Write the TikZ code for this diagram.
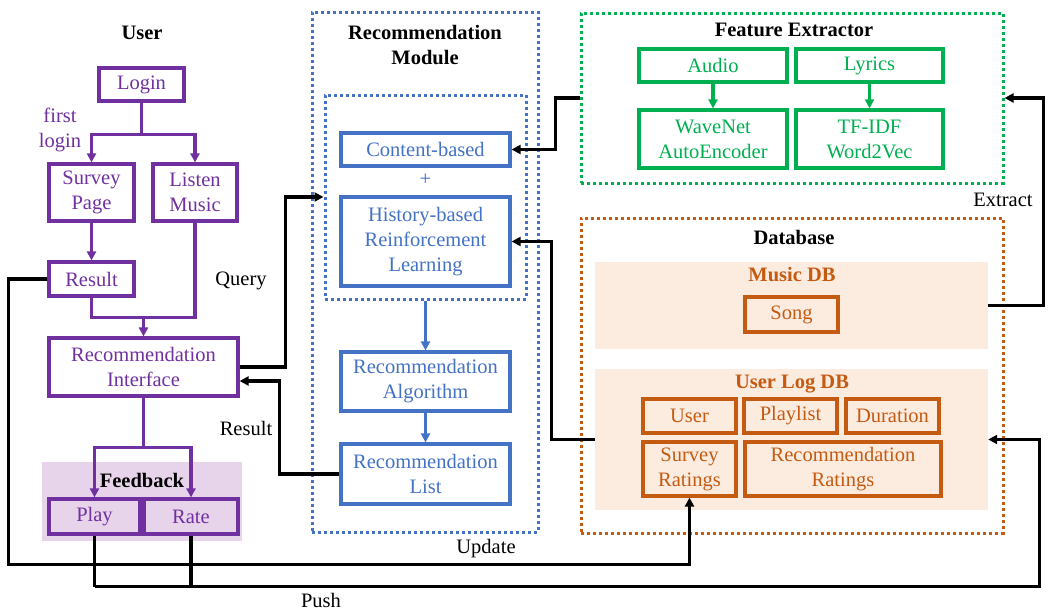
\documentclass[tikz,border=0pt]{standalone}
\usepackage{fontspec}
\setmainfont{Liberation Serif}
\usetikzlibrary{arrows.meta,calc}
\definecolor{cpur}{HTML}{7030A0}
\definecolor{cblu}{HTML}{4472C4}
\definecolor{cgrn}{HTML}{00B050}
\definecolor{cora}{HTML}{C55A11}
\definecolor{cfb}{HTML}{E7D3EA}
\definecolor{cdb}{HTML}{FCEBDF}
\tikzset{
  x=1pt,y=-1pt,
  every node/.style={font=\fontsize{20.5}{25}\selectfont, align=center, inner sep=0pt},
  pbox/.style={draw=cpur, text=cpur, line width=3.2pt},
  bbox/.style={draw=cblu, text=cblu, line width=3.2pt},
  gbox/.style={draw=cgrn, text=cgrn, line width=3.2pt},
  obox/.style={draw=cora, text=cora, line width=3.2pt},
  dotbox/.style={line width=3pt, dash pattern=on 3pt off 3pt},
  bg/.style={draw=none},
  ttl/.style={font=\fontsize{20.5}{25}\selectfont\bfseries},
  tip/.style={-{Triangle[length=9pt,width=9pt]}},
  pline/.style={draw=cpur, line width=3.2pt},
  bline/.style={draw=cblu, line width=3.2pt},
  gline/.style={draw=cgrn, line width=3.2pt},
  kline/.style={draw=black, line width=3.2pt},
}
\begin{document}
\begin{tikzpicture}
\useasboundingbox[fill=white] (0,0) rectangle (1051,613);
% backgrounds
\node[bg, fill=cfb, minimum width=200, minimum height=79] (fbbg) at (142,501.5) {};
\node[bg, fill=cdb, minimum width=393, minimum height=87] (musicdb) at (791.5,305.5) {};
\node[bg, fill=cdb, minimum width=393, minimum height=141] (userlog) at (791.5,439.5) {};
% dotted containers
\node[draw=cblu, dotbox, minimum width=226, minimum height=520] (rm) at (425,272) {};
\node[draw=cblu, dotbox, minimum width=201, minimum height=204] (inner) at (425.5,197) {};
\node[draw=cgrn, dotbox, minimum width=422, minimum height=170] (fe) at (792,98) {};
\node[draw=cora, dotbox, minimum width=422, minimum height=315] (db) at (792,375.5) {};
% titles
\node[ttl] (tuser) at (142,33) {User};
\node[ttl] (trm) at (425,45.5) {Recommendation\\Module};
\node[ttl] (tfe) at (794,30) {Feature Extractor};
\node[ttl] (tdb) at (794,237) {Database};
\node[ttl, text=cora] (tmdb) at (792,275) {Music DB};
\node[ttl, text=cora] (tudb) at (792,384) {User Log DB};
\node[ttl] (tfb) at (142,480) {Feedback};
% user boxes
\node[pbox, minimum width=85, minimum height=33] (login) at (141.5,84.5) {Login};
\node[pbox, minimum width=85, minimum height=57] (survey) at (91.5,192.5) {Survey\\Page};
\node[pbox, minimum width=84, minimum height=57] (listen) at (195,192.5) {Listen\\Music};
\node[pbox, minimum width=85, minimum height=34] (result) at (91.5,279) {Result};
\node[pbox, minimum width=189, minimum height=58] (ri) at (143.5,367) {Recommendation\\Interface};
\node[pbox, minimum width=91, minimum height=35] (play) at (94.5,516.5) {Play};
\node[pbox, minimum width=94, minimum height=35] (rate) at (191,516.5) {Rate};
\node[text=cpur] (first) at (60,130) {first\\login};
% recommendation module
\node[bbox, minimum width=169, minimum height=33] (content) at (425.5,149.5) {Content-based};
\node[text=cblu] (plus) at (425.5,180) {+};
\node[bbox, minimum width=169, minimum height=89] (history) at (425.5,241.5) {History-based\\Reinforcement\\Learning};
\node[bbox, minimum width=169, minimum height=59] (recalg) at (425.5,381.5) {Recommendation\\Algorithm};
\node[bbox, minimum width=169, minimum height=60] (reclist) at (425.5,474) {Recommendation\\List};
% feature extractor
\node[gbox, minimum width=148, minimum height=33] (audio) at (713,65.5) {Audio};
\node[gbox, minimum width=147, minimum height=33] (lyrics) at (869.5,65.5) {Lyrics};
\node[gbox, minimum width=148, minimum height=58] (wavenet) at (713,139) {WaveNet\\AutoEncoder};
\node[gbox, minimum width=147, minimum height=58] (tfidf) at (869.5,139) {TF-IDF\\Word2Vec};
% database
\node[obox, minimum width=93, minimum height=35] (song) at (791.5,314.5) {Song};
\node[obox, minimum width=93, minimum height=34] (uuser) at (689.5,416) {User};
\node[obox, minimum width=93, minimum height=34] (playlist) at (790.5,416) {Playlist};
\node[obox, minimum width=93, minimum height=34] (duration) at (892.5,416) {Duration};
\node[obox, minimum width=93, minimum height=54] (surveyr) at (689.5,469) {Survey\\Ratings};
\node[obox, minimum width=196, minimum height=54] (recr) at (843,469) {Recommendation\\Ratings};
% labels
\node (lquery) at (241,281) {Query};
\node (lresult) at (246,428) {Result};
\node (lupdate) at (486,549) {Update};
\node (lpush) at (321,600) {Push};
\node (lextract) at (1003,200) {Extract};
% purple connectors
\draw[pline] (login.south) -- ++(0,32) coordinate (j1);
\draw[pline, tip] (j1) -| (survey.north);
\draw[pline, tip] (j1) -| (listen.north);
\draw[pline, tip] (survey.south) -- (result.north);
\draw[pline] (result.south) -- ++(0,20) coordinate (j2) -| (listen.south);
\draw[pline, tip] (ri.north |- j2) -- (ri.north);
\draw[pline] (ri.south) -- ++(0,50) coordinate (j3);
\draw[pline, tip] (j3) -| (play.north);
\draw[pline, tip] (j3) -| (rate.north);
% blue connectors
\draw[bline, tip] (inner.south) -- (recalg.north);
\draw[bline, tip] (recalg.south) -- (reclist.north);
% green connectors
\draw[gline, tip] (audio.south) -- (wavenet.north);
\draw[gline, tip] (lyrics.south) -- (tfidf.north);
% black connectors
\draw[kline, tip] (ri.east) -- ++(46,0) |- (inner.west);
\draw[kline, tip] (reclist.west) -- ++(-60,0) |- ($(ri.east)+(0,14)$);
\draw[kline, tip] (fe.west) -- ++(-24,0) |- (content.east);
\draw[kline, tip] (musicdb.east) -- ++(55,0) |- (fe.east);
\draw[kline, tip] (userlog.west) -- ++(-43,0) |- (history.east);
\draw[kline, tip] (result.west) -- ++(-39,0) |- ($(surveyr.south)+(0,67)$) -- (surveyr.south);
\draw[kline] (play.south) -- ++(0,51) coordinate (p1);
\draw[kline] (rate.south) -- (rate.south |- p1);
\draw[kline, tip] (p1) -- ($(userlog.east |- p1)+(51,0)$) |- (userlog.east);
\end{tikzpicture}
\end{document}
